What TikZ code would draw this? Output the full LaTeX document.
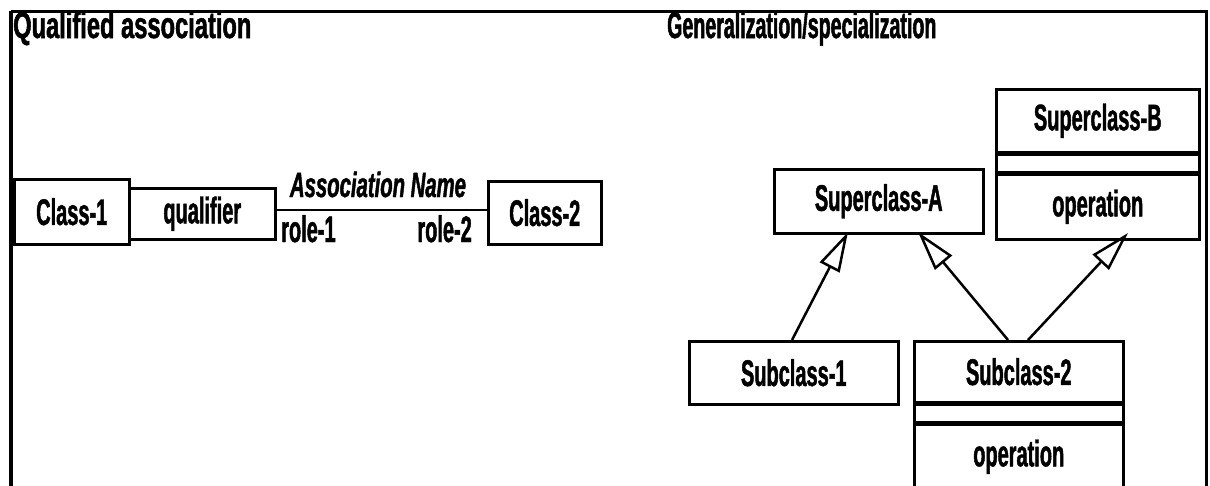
\documentclass[tikz,border=0pt]{standalone}
\usepackage{fontspec}
\usetikzlibrary{arrows.meta}
\newfontfamily\condfont[FakeStretch=0.54, FakeBold=1.2]{Liberation Sans}
\newfontfamily\headfont[FakeStretch=0.64, FakeBold=1.4]{Liberation Sans}
\newfontfamily\headbfont[FakeStretch=0.53, FakeBold=1.4]{Liberation Sans}
\newfontfamily\assocfont[FakeStretch=0.58, FakeBold=1.2]{Liberation Sans}
\begin{document}
\begin{tikzpicture}[x=1pt,y=-1pt,
  txt/.style={font=\condfont\bfseries\fontsize{37}{40}\selectfont, inner sep=0pt},
  box/.style={draw, line width=2.5pt, txt, anchor=north west},
  band/.style={draw, line width=2.5pt, anchor=north west, inner sep=0pt},
  gen/.style={line width=2.5pt, -{Triangle[open, length=40pt, width=22pt, line width=2.5pt]}},
  assoc/.style={line width=2.5pt}
]
\useasboundingbox (0,0) rectangle (1210,485);

% outer frame (open at the bottom)
\draw[line width=4pt] (11,490) -- (11,11);
\draw[line width=3pt] (11,11) -- (1206,11) -- (1206,490);

% section headings
\node[font=\headfont\bfseries\fontsize{37}{40}\selectfont, inner sep=0pt, anchor=base west] (h1) at (13,38) {Qualified association};
\node[font=\headbfont\bfseries\fontsize{37}{40}\selectfont, inner sep=0pt, anchor=base west] (h2) at (667,38) {Generalization/specialization};

% ---- qualified association ----
\node[box, minimum width=115pt, minimum height=65pt] (c1) at (13,178) {Class-1};
\node[box, minimum width=146pt, minimum height=51pt] (q) at (128,187) {qualifier};
\node[box, minimum width=113pt, minimum height=63pt] (c2) at (487,180) {Class-2};
\draw[assoc] ([yshift=4pt]q.east) -- ([yshift=3pt]c2.west);
\node[txt, font=\assocfont\bfseries\itshape\fontsize{35}{40}\selectfont, anchor=base] (an) at (378,197) {Association Name};
\node[txt, anchor=base west] (r1) at (281,242) {role-1};
\node[txt, anchor=base east] (r2) at (472,242) {role-2};

% ---- generalization / specialization ----
\node[box, minimum width=209pt, minimum height=64pt] (sa) at (773,168) {Superclass-A};

\node[box, minimum width=203pt, minimum height=63pt] (sbn) at (995,88) {Superclass-B};
\node[band, minimum width=203pt, minimum height=17pt] (sba) at (sbn.south west) {};
\node[box, minimum width=203pt, minimum height=65pt] (sbo) at (sba.south west) {operation};

\node[box, minimum width=209pt, minimum height=63pt] (s1) at (688,340) {Subclass-1};

\node[box, minimum width=209pt, minimum height=61pt] (s2n) at (913,340) {Subclass-2};
\node[band, minimum width=209pt, minimum height=17pt] (s2a) at (s2n.south west) {};
\node[box, minimum width=209pt, minimum height=65pt] (s2o) at (s2a.south west) {operation};

% generalization arrows: subclass top edge -> superclass bottom edge
\coordinate (s1t) at (792,340);
\coordinate (s2tl) at (1008,340);
\coordinate (s2tr) at (1028,340);
\coordinate (sab1) at (848,232);
\coordinate (sab2) at (918,232);
\coordinate (sbb) at (1128,233);
\draw[gen] (s1t) -- (sab1);
\draw[gen] (s2tl) -- (sab2);
\draw[gen] (s2tr) -- (sbb);
\end{tikzpicture}
\end{document}
